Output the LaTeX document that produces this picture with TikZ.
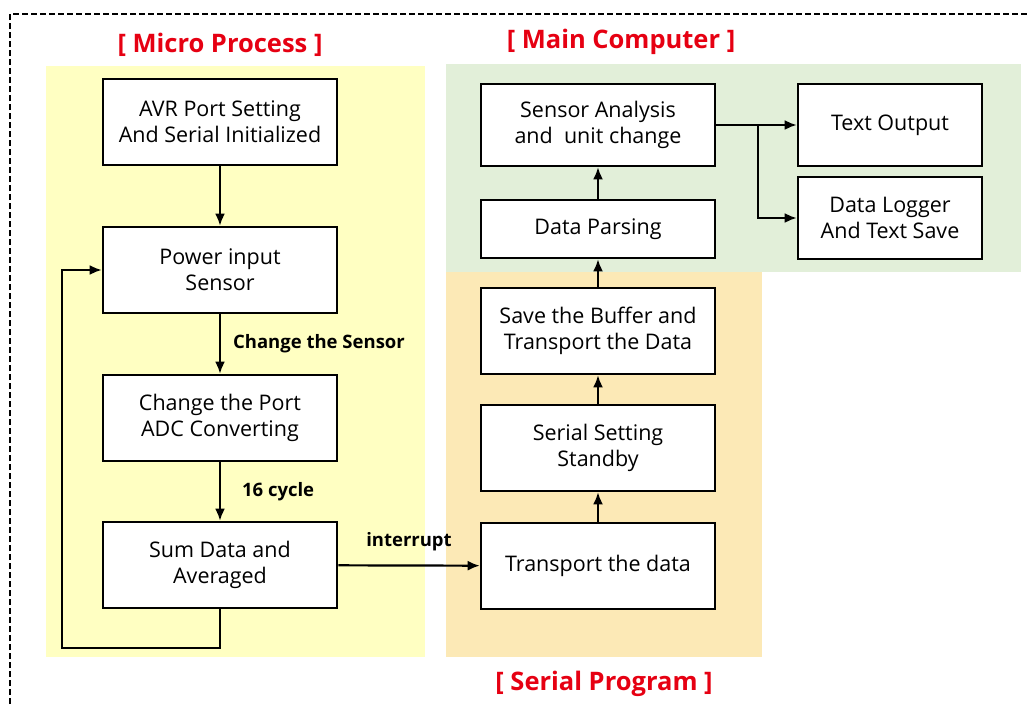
\documentclass[tikz,border=0pt]{standalone}
\usepackage{fontspec}
\setmainfont{Open Sans}
\usetikzlibrary{arrows.meta}
\definecolor{microbg}{HTML}{FFFFC2}
\definecolor{mainbg}{HTML}{E2EFD9}
\definecolor{serialbg}{HTML}{FCE9B6}
\definecolor{titlered}{HTML}{E60012}
\tikzstyle{every node}=[align=center, font=\fontsize{21.5}{26}\selectfont]
\tikzstyle{box}=[draw, fill=white, line width=2.6pt, minimum width=234pt, minimum height=86pt, inner sep=0pt]
\tikzstyle{sidebox}=[box, minimum width=184pt, minimum height=82pt]
\tikzstyle{title}=[text=titlered, font=\bfseries\fontsize{25.5}{30}\selectfont]
\tikzstyle{lbl}=[font=\bfseries\fontsize{18.5}{22}\selectfont, inner sep=3pt]
\tikzstyle{flow}=[-{Latex[length=12pt, width=10pt]}, line width=2.2pt]

\begin{document}
\begin{tikzpicture}[x=1pt, y=-1pt]
\useasboundingbox (0,0) rectangle (1027,704);
% Frame
    \draw[line width=1.5pt, dash pattern=on 6pt off 3pt] (10,704) -- (10,14) -- (1027,14);
% Areas
    \fill[microbg] (46,66) rectangle (425,657);
    \fill[mainbg] (446,64) rectangle (1021,272);
    \fill[serialbg] (446,272) rectangle (762,657);
% Titles
    \node[title] (micro) at (220,45) {[ Micro Process ]};
    \node[title] (main) at (621,42) {[ Main Computer ]};
    \node[title] (serial) at (604,684) {[ Serial Program ]};
% Micro process
    \node[box] (avr) at (220,122) {AVR Port Setting\\And Serial Initialized};
    \node[box] (power) at (220,270) {Power input\\Sensor};
    \node[box] (port) at (220,418) {Change the Port\\ADC Converting};
    \node[box] (sum) at (220,565) {Sum Data and\\Averaged};
% Serial program
    \node[box] (transport) at (598,566) {Transport the data};
    \node[box] (standby) at (598,448) {Serial Setting\\Standby};
    \node[box] (buffer) at (598,331) {Save the Buffer and\\Transport the Data};
% Main computer
    \node[box, minimum height=58pt] (parsing) at (598,229) {Data Parsing};
    \node[box, minimum height=82pt] (analysis) at (598,125) {Sensor Analysis\\and~~unit change};
    \node[sidebox] (output) at (890,125) {Text Output};
    \node[sidebox] (logger) at (890,218) {Data Logger\\And Text Save};
% Arrows
    \draw[flow] (avr) -- (power);
    \draw[flow] (power) -- node[lbl, right, xshift=9pt] {Change the Sensor} (port);
    \draw[flow] (port) -- node[lbl, right, xshift=18pt] {16 cycle} (sum);
    \draw[flow] (sum.south) -- ++(0,39) -| ([xshift=-40pt]power.west) -- (power.west);
    \draw[flow] (sum) -- node[lbl, above, yshift=10pt] {interrupt} (transport);
    \draw[flow] (transport) -- (standby);
    \draw[flow] (standby) -- (buffer);
    \draw[flow] (buffer) -- (parsing);
    \draw[flow] (parsing) -- (analysis);
    \draw[flow] (analysis) -- (output);
    \draw[flow] ([xshift=42pt]analysis.east) |- (logger.west);
\end{tikzpicture}
\end{document}
